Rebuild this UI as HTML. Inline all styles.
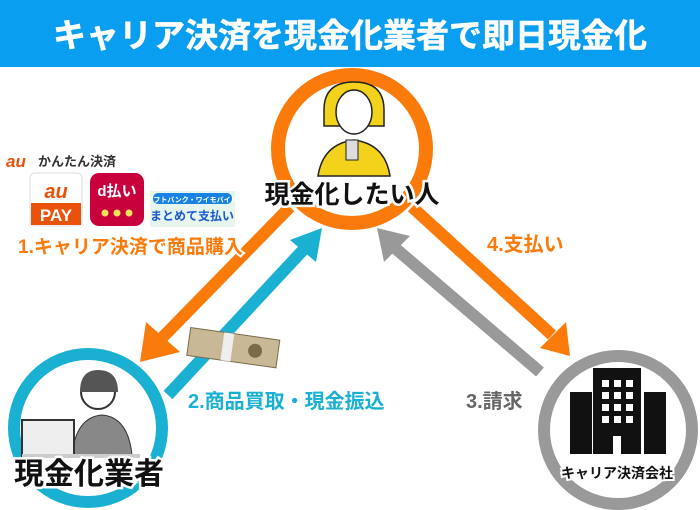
<!DOCTYPE html>
<html><head><meta charset="utf-8"><style>
html,body{margin:0;padding:0;width:700px;height:510px;overflow:hidden;background:#fff}
svg{display:block}
text{font-family:"Liberation Sans","Noto Sans CJK JP",sans-serif;font-weight:bold}
</style></head><body>
<svg width="700" height="510" viewBox="0 0 700 510" xmlns="http://www.w3.org/2000/svg">
<rect x="0" y="0" width="700" height="67" fill="#0a9ef0"/>
<text x="350" y="47" font-size="33" fill="#fff" text-anchor="middle" stroke="#fff" stroke-width="0.6">キャリア決済を現金化業者で即日現金化</text>

<circle cx="352" cy="149" r="74" fill="#fff" stroke="#fa7a0a" stroke-width="14"/>
<circle cx="88" cy="428" r="74" fill="#fff" stroke="#19b0d2" stroke-width="12"/>
<circle cx="618" cy="430" r="74" fill="#fff" stroke="#999" stroke-width="12"/>

<g stroke-width="12" fill="none">
<line x1="290" y1="207" x2="160" y2="340" stroke="#fa7a0a"/>
<line x1="168" y1="395" x2="305" y2="248" stroke="#19b0d2"/>
<line x1="540" y1="372" x2="395" y2="248" stroke="#999"/>
<line x1="412" y1="207" x2="552" y2="335" stroke="#fa7a0a"/>
</g>
<polygon points="140,362 146,322 180,352" fill="#fa7a0a"/>
<polygon points="322,228 316,262 290,240" fill="#19b0d2"/>
<polygon points="377,228 410,236 384,262" fill="#999"/>
<polygon points="570,356 566,322 540,348" fill="#fa7a0a"/>

<g>
<path d="M324 110 q0-28 30-28 q30 0 30 28 l0 16 l-60 0z" fill="#f3d21b" stroke="#222" stroke-width="1.5"/>
<ellipse cx="354" cy="112" rx="18" ry="22" fill="#fff" stroke="#222" stroke-width="1.5"/>
<path d="M318 176 q5-32 36-36 q31 4 36 36z" fill="#f3d21b" stroke="#222" stroke-width="1.5"/>
<rect x="346" y="140" width="12" height="20" fill="#ddd" stroke="#222"/>
</g>
<text x="352" y="203" font-size="25" fill="#111" text-anchor="middle" stroke="#fff" stroke-width="5" paint-order="stroke">現金化したい人</text>

<g>
<circle cx="98" cy="392" r="17" fill="#fff" stroke="#333" stroke-width="2"/>
<path d="M80 392 q0-22 18-22 q20 0 20 22" fill="#555"/>
<path d="M72 455 q4-38 30-40 q26 2 30 40z" fill="#888" stroke="#333"/>
<rect x="22" y="420" width="52" height="36" fill="#eee" stroke="#333" stroke-width="2"/>
<rect x="22" y="454" width="118" height="4" fill="#ccc"/>
</g>
<text x="89" y="484" font-size="30" fill="#111" text-anchor="middle" stroke="#fff" stroke-width="5" paint-order="stroke">現金化業者</text>

<g fill="#111">
<rect x="570" y="392" width="22" height="62"/>
<rect x="593" y="368" width="48" height="86"/>
<rect x="644" y="392" width="22" height="62"/>
</g>
<g fill="#fff">
<rect x="602" y="380" width="7" height="7"/><rect x="614" y="380" width="7" height="7"/><rect x="626" y="380" width="7" height="7"/>
<rect x="602" y="392" width="7" height="7"/><rect x="614" y="392" width="7" height="7"/><rect x="626" y="392" width="7" height="7"/>
<rect x="602" y="404" width="7" height="7"/><rect x="614" y="404" width="7" height="7"/><rect x="626" y="404" width="7" height="7"/>
<rect x="602" y="416" width="7" height="7"/><rect x="614" y="416" width="7" height="7"/><rect x="626" y="416" width="7" height="7"/>
<rect x="613" y="436" width="8" height="18"/>
</g>
<text x="617" y="478" font-size="14" fill="#111" text-anchor="middle" stroke="#fff" stroke-width="4" paint-order="stroke">キャリア決済会社</text>

<g transform="rotate(8 235 350)">
<rect x="188" y="334" width="90" height="28" fill="#c8b896" stroke="#7a6a4a"/>
<rect x="222" y="334" width="10" height="28" fill="#eee"/>
<circle cx="255" cy="348" r="7" fill="#7a6a4a"/>
</g>

<text x="6" y="167" font-size="17" fill="#e8520a" font-style="italic">au</text>
<text x="38" y="166" font-size="13" fill="#333" font-weight="normal">かんたん決済</text>
<rect x="30" y="173" width="52" height="53" rx="5" fill="#fff" stroke="#ddd"/>
<text x="56" y="198" font-size="20" fill="#e8520a" text-anchor="middle" font-style="italic">au</text>
<rect x="31" y="203" width="50" height="22" fill="#e8520a"/>
<text x="56" y="221" font-size="17" fill="#fff" text-anchor="middle">PAY</text>
<rect x="90" y="173" width="54" height="53" rx="9" fill="#c8003c"/>
<text x="117" y="196" font-size="15" fill="#fff" text-anchor="middle">d払い</text>
<circle cx="105" cy="213" r="3.5" fill="#f5e35a"/><circle cx="117" cy="213" r="3.5" fill="#f5e35a"/><circle cx="129" cy="213" r="3.5" fill="#f5e35a"/>
<rect x="150" y="191" width="85" height="36" fill="#e6f6ec"/>
<rect x="153" y="193" width="79" height="11" rx="5" fill="#1a82e2"/>
<text x="192" y="202" font-size="7" fill="#fff" text-anchor="middle">ソフトバンク・ワイモバイル</text>
<text x="192" y="220" font-size="12" fill="#1a5ad0" text-anchor="middle">まとめて支払い</text>

<text x="18" y="253" font-size="19" fill="#fa7a0a" stroke="#fff" stroke-width="4" paint-order="stroke">1.キャリア決済で商品購入</text>
<text x="487" y="251" font-size="20" fill="#fa7a0a">4.支払い</text>
<text x="188" y="408" font-size="20" fill="#19b0d2">2.商品買取・現金振込</text>
<text x="466" y="408" font-size="20" fill="#666">3.請求</text>
</svg>
</body></html>
